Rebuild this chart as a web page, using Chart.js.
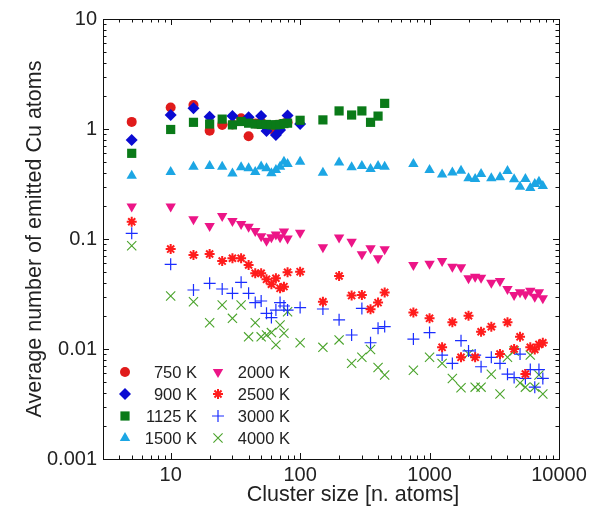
<!DOCTYPE html>
<html>
<head>
<meta charset="utf-8">
<script src="https://cdn.jsdelivr.net/npm/chart.js@4.4.1/dist/chart.umd.min.js"></script>
<style>
  html, body { margin: 0; padding: 0; background: #fff; }
</style>
</head>
<body>
<canvas id="chart" width="599" height="513"></canvas>
<script>
// cluster sizes (n. atoms)
const sizesLow = [5, 10, 15, 20, 25, 30, 35, 40, 45, 50, 55, 60, 65, 70, 75, 80];
const sizes900 = [5, 10, 15, 20, 30, 40, 50, 55, 65, 70, 80, 100];
const sizes1125 = [5, 10, 15, 20, 25, 30, 35, 40, 45, 50, 55, 60, 65, 70, 75, 80, 100, 150, 200, 250, 300, 350, 400, 450];
const sizesLong = [5, 10, 15, 20, 25, 30, 35, 40, 45, 50, 55, 60, 65, 70, 75, 80, 100, 150, 200, 250, 300, 350, 400, 450,
    750, 1000, 1250, 1500, 1750, 2000, 2250, 2500, 3000, 3500, 4000, 4500, 5000, 5500, 6000, 6500, 7000, 7500];

// average number of emitted Cu atoms
const cu750 = [1.16, 1.57, 1.65, 0.966, 1.09, 1.1, 1.25, 0.86, 1.12, 1.15, 1.05, 1.0, 1.08, 1.1, 1.12, 1.15];
const cu900 = [0.794, 1.34, 1.54, 1.29, 1.31, 1.28, 1.31, 0.96, 0.88, 0.98, 1.33, 1.11];
const cu1125 = [0.601, 0.99, 1.15, 1.11, 1.23, 1.09, 1.17, 1.13, 1.11, 1.1, 1.1, 1.09, 1.09, 1.1, 1.12, 1.13,
    1.2, 1.21, 1.46, 1.34, 1.46, 1.15, 1.31, 1.71];
const cu1500 = [0.376, 0.406, 0.454, 0.461, 0.454, 0.393, 0.449, 0.44, 0.406, 0.457, 0.44, 0.396, 0.424, 0.454, 0.505, 0.481,
    0.505, 0.401, 0.497, 0.449, 0.461, 0.433, 0.461, 0.454, 0.481, 0.424, 0.385, 0.403, 0.418, 0.357, 0.351, 0.39,
    0.357, 0.364, 0.415, 0.349, 0.299, 0.351, 0.291, 0.316, 0.332, 0.303];
const cu2000 = [0.197, 0.197, 0.151, 0.131, 0.162, 0.146, 0.137, 0.129, 0.118, 0.106, 0.0966, 0.104, 0.110, 0.104, 0.117, 0.101,
    0.114, 0.084, 0.103, 0.0946, 0.0726, 0.0823, 0.0668, 0.0805, 0.058, 0.0597, 0.063, 0.056, 0.0553, 0.044, 0.0454, 0.0445,
    0.0401, 0.0415, 0.0351, 0.031, 0.0328, 0.0314, 0.0339, 0.0299, 0.0328, 0.0289];
const cu2500 = [0.1436, 0.081, 0.0716, 0.073, 0.063, 0.0668, 0.0668, 0.058, 0.0488, 0.0488, 0.043, 0.0388, 0.044, 0.0356, 0.0369, 0.0498,
    0.0505, 0.0269, 0.0461, 0.0306, 0.031, 0.023, 0.0264, 0.0327, 0.0215, 0.019, 0.01035, 0.0175, 0.0084, 0.0201, 0.0084, 0.01436,
    0.01595, 0.009, 0.0175, 0.01, 0.0129, 0.00593, 0.01035, 0.0099, 0.011, 0.0114];
const cu3000 = [0.1127, 0.0589, 0.0344, 0.0395, 0.0351, 0.0321, 0.0404, 0.0321, 0.0264, 0.0273, 0.0211, 0.0193, 0.0226, 0.0264, 0.0246, 0.0226,
    0.0238, 0.0231, 0.0184, 0.0134, 0.0234, 0.0114, 0.0154, 0.016, 0.0123, 0.0141, 0.0088, 0.0074, 0.0119, 0.0096, 0.0088, 0.0069,
    0.0084, 0.0074, 0.0059, 0.0055, 0.009, 0.0054, 0.0065, 0.0045, 0.0065, 0.0054];
const cu4000 = [0.0869, 0.0303, 0.0269, 0.0173, 0.0251, 0.019, 0.0251, 0.0129, 0.0173, 0.0129, 0.0134, 0.0141, 0.0109, 0.0165, 0.0139, 0.0218,
    0.0114, 0.01035, 0.0121, 0.0074, 0.0084, 0.0099, 0.0068, 0.0058, 0.0064, 0.0084, 0.0074, 0.0054, 0.00445, 0.009, 0.0045, 0.0045,
    0.0059, 0.0039, 0.0084, 0.0096, 0.0049, 0.0045, 0.0088, 0.0045, 0.0058, 0.0039];

const xTicks = [10, 100, 1000, 10000];
const yTicks = [0.001, 0.01, 0.1, 1, 10];
const xTitle = 'Cluster size [n. atoms]';

const FONT = "'Liberation Sans', Arial, Helvetica, sans-serif";
const pts = (xs, ys) => xs.map((x, i) => ({ x: x, y: ys[i] }));

function series(label, xs, ys, style, color, radius, extra) {
    const filled = ['circle', 'rect', 'rectRot', 'triangle'].includes(style);
    return Object.assign({
        label: label,
        data: pts(xs, ys),
        pointStyle: style,
        pointRadius: radius,
        pointHoverRadius: radius,
        pointBackgroundColor: filled ? color : 'transparent',
        pointBorderColor: color,
        pointBorderWidth: filled ? 0 : 1.3,
        showLine: false
    }, extra || {});
}

const datasets = [
    series('750 K', sizesLow, cu750, 'circle', '#e01b1b', 5, { order: 2 }),
    series('900 K', sizes900, cu900, 'rectRot', '#0b0bd2', 6, { order: 1 }),
    series('1125 K', sizes1125, cu1125, 'rect', '#0a7a18', 6.5, { order: 0 }),
    series('1500 K', sizesLong, cu1500, 'triangle', '#1ca6e4', 6, { order: 3 }),
    series('2000 K', sizesLong, cu2000, 'triangle', '#ec1587', 6, { order: 4, pointRotation: 180 }),
    series('2500 K', sizesLong, cu2500, 'star', '#ff1c1c', 5, { order: 5, pointBorderWidth: 2 }),
    series('3000 K', sizesLong, cu3000, 'cross', '#1a2dff', 6, { order: 6, pointBorderWidth: 1.2 }),
    series('4000 K', sizesLong, cu4000, 'crossRot', '#4aa32b', 6.5, { order: 7, pointBorderWidth: 1.1 })
];

// box, inward log ticks on all four sides, x title and the two-column legend
const frame = {
    id: 'frame',
    afterDraw(chart) {
        const { ctx, chartArea: a, scales: { x, y } } = chart;
        ctx.save();
        ctx.strokeStyle = '#111';
        ctx.lineWidth = 1;
        ctx.strokeRect(a.left + 0.5, a.top + 0.5, a.right - a.left, a.bottom - a.top);

        ctx.beginPath();
        for (let e = 0; e <= 4; e++) {
            for (let m = 1; m < 10; m++) {
                const v = m * Math.pow(10, e);
                if (v < 3 || v > 10000) continue;
                const px = Math.round(x.getPixelForValue(v)) + 0.5;
                const len = m === 1 ? 6 : 3.5;
                ctx.moveTo(px, a.bottom); ctx.lineTo(px, a.bottom - len);
                ctx.moveTo(px, a.top); ctx.lineTo(px, a.top + len);
            }
        }
        for (let e = -3; e <= 1; e++) {
            for (let m = 1; m < 10; m++) {
                const v = m * Math.pow(10, e);
                if (v > 10.0001) continue;
                const py = Math.round(y.getPixelForValue(v)) + 0.5;
                const len = m === 1 ? 6 : 3.5;
                ctx.moveTo(a.left, py); ctx.lineTo(a.left + len, py);
                ctx.moveTo(a.right, py); ctx.lineTo(a.right - len, py);
            }
        }
        ctx.stroke();

        // x axis title, sits a bit right of the plot centre
        ctx.fillStyle = '#222';
        ctx.font = '21.5px ' + FONT;
        ctx.textAlign = 'center';
        ctx.textBaseline = 'middle';
        ctx.fillText(xTitle, 353, 495);

        // legend
        ctx.font = '16.5px ' + FONT;
        ctx.textAlign = 'right';
        chart.data.datasets.forEach((ds, i) => {
            const col = Math.floor(i / 4), row = i % 4;
            const mx = a.left + 22 + col * 93;
            const my = a.top + 353 + row * 22;
            ctx.fillStyle = ds.pointBackgroundColor;
            ctx.strokeStyle = ds.pointBorderColor;
            ctx.lineWidth = ds.pointBorderWidth;
            Chart.helpers.drawPoint(ctx, {
                pointStyle: ds.pointStyle,
                rotation: ds.pointRotation || 0,
                radius: ds.pointRadius,
                borderWidth: ds.pointBorderWidth
            }, mx, my);
            ctx.fillStyle = '#222';
            ctx.fillText(ds.label, mx + 72, my + 1);
        });
        ctx.restore();
    }
};

new Chart(document.getElementById('chart'), {
    type: 'scatter',
    data: { datasets: datasets },
    options: {
        responsive: false,
        animation: false,
        events: [],
        layout: { padding: { left: 0, top: 19, right: 40, bottom: 0 } },
        plugins: { legend: { display: false }, tooltip: { enabled: false } },
        scales: {
            x: {
                type: 'logarithmic',
                min: 3,
                max: 10000,
                afterBuildTicks: s => { s.ticks = xTicks.map(v => ({ value: v })); },
                afterFit: s => { s.height = 54; },
                ticks: {
                    callback: v => String(v),
                    font: { family: FONT, size: 20 },
                    color: '#222',
                    padding: 4,
                    maxRotation: 0,
                    autoSkip: false
                },
                grid: { display: false, drawTicks: false },
                border: { display: false }
            },
            y: {
                type: 'logarithmic',
                min: 0.001,
                max: 10,
                afterBuildTicks: s => { s.ticks = yTicks.map(v => ({ value: v })); },
                afterFit: s => { s.width = 103; },
                ticks: {
                    callback: v => String(v),
                    font: { family: FONT, size: 20 },
                    color: '#222',
                    padding: 6,
                    autoSkip: false
                },
                grid: { display: false, drawTicks: false },
                border: { display: false },
                title: {
                    display: true,
                    text: 'Average number of emitted Cu atoms',
                    font: { family: FONT, size: 21.5 },
                    color: '#222',
                    padding: { top: 22, bottom: 0 }
                }
            }
        }
    },
    plugins: [frame]
});
</script>
</body>
</html>
